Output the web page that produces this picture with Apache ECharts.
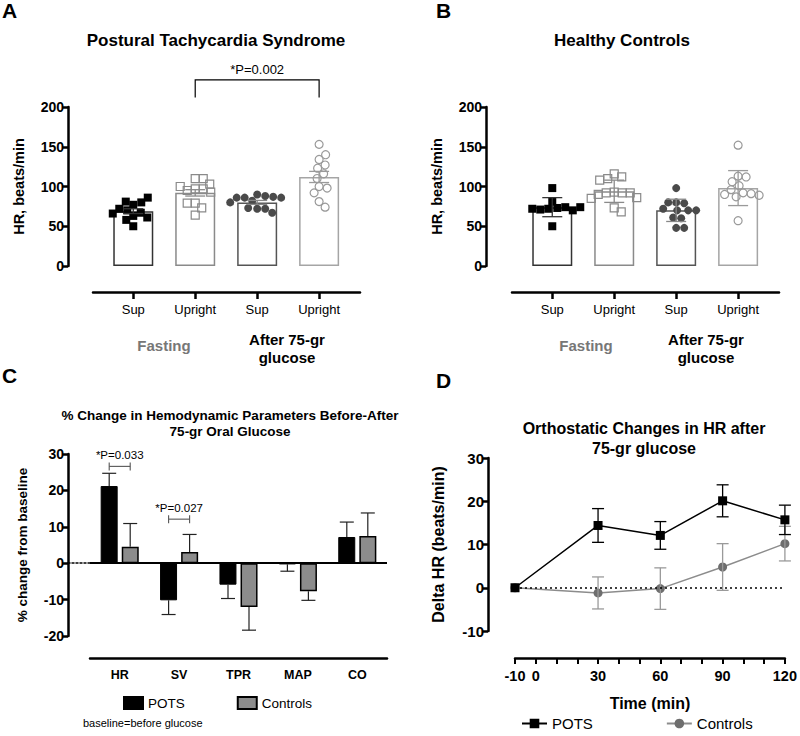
<!DOCTYPE html>
<html>
<head>
<meta charset="utf-8">
<script src="https://cdn.jsdelivr.net/npm/echarts@6.0.0/dist/echarts.min.js"></script>
<style>
html,body{margin:0;padding:0;background:#ffffff;}
#chart{width:800px;height:736px;}
</style>
</head>
<body>
<div id="chart"></div>
<script>
// ---------- data: panels A and B (HR, beats/min) ----------
const positionLabels = ['Sup', 'Upright', 'Sup', 'Upright'];
const potsSupFasting = [77, 80, 81, 86, 50, 63, 67, 70, 72, 58, 61, 66];
const potsUprightFasting = [110, 110, 97, 97, 95, 100, 103, 93, 79, 73, 79, 64];
const potsSupGlucose = [90, 88, 82, 86, 87, 86, 86, 72, 72, 73, 67, 80];
const potsUprightGlucose = [153, 134, 140, 127, 123, 116, 110, 100, 98, 92, 81, 74];
const potsMeans = [69, 92, 80, 112];
const potsSem = [3, 4, 2.5, 7];

const ctrlSupFasting = [98, 81, 73, 72, 71, 74, 72, 70, 74, 50];
const ctrlUprightFasting = [116, 112, 110, 108, 93, 92, 92, 92, 90, 86, 85, 73, 68];
const ctrlSupGlucose = [98, 80, 79, 80, 72, 70, 70, 70, 61, 60, 48, 48];
const ctrlUprightGlucose = [152, 113, 112, 106, 101, 96, 92, 91, 90, 89, 87, 57];
const ctrlMeans = [74, 94, 70, 98];
const ctrlSd = [12, 14, 14, 22];

const sigA = {from: 2, to: 4, low: 212, high: 234, label: '*P=0.002'};

// ---------- data: panel C (% change from baseline) ----------
const paramNames = ['HR', 'SV', 'TPR', 'MAP', 'CO'];
const potsChange = [21.2, -10.2, -5.9, -0.3, 7.2];
const potsChangeErr = [3.5, 3.9, 3.8, 1.9, 4.1];
const ctrlChange = [4.5, 3.1, -12.0, -7.7, 7.5];
const ctrlChangeErr = [6.4, 4.8, 6.4, 2.5, 6.3];
const sigC = [{cat: 0, y: 26.6, label: '*P=0.033'}, {cat: 1, y: 12.1, label: '*P=0.027'}];

// ---------- data: panel D (Delta HR, beats/min) ----------
const timePoints = [-10, 30, 60, 90, 120];
const potsDelta = [0, 14.4, 12.1, 20.1, 15.7];
const potsDeltaErr = [0, 3.9, 3.2, 3.7, 3.4];
const ctrlDelta = [0, -1.2, -0.2, 4.8, 10.2];
const ctrlDeltaErr = [0, 3.7, 4.8, 5.4, 4.0];
const timeTickLabels = [-10, 0, 30, 60, 90, 120];

// ---------- layout / style ----------
const FONT = '"Liberation Sans", Arial, Helvetica, sans-serif';
const AB = {top: 107, height: 159, width: 267, xmin: 0.35, xmax: 4.66, ymax: 200};
const pxPerX = AB.width / (AB.xmax - AB.xmin);
const pxPerY = AB.height / AB.ymax;
const groupStyles = [
  {symbol: 'rect', fill: '#000000', stroke: '#000000', bar: '#333333', err: '#333333'},
  {symbol: 'rect', fill: 'rgba(255,255,255,0)', stroke: '#8a8a8a', bar: '#8a8a8a', err: '#8a8a8a'},
  {symbol: 'circle', fill: '#4a4a4a', stroke: '#4a4a4a', bar: '#555555', err: '#888888'},
  {symbol: 'circle', fill: 'rgba(255,255,255,0)', stroke: '#9a9a9a', bar: '#a5a5a5', err: '#9a9a9a'}
];
const MS = 8; // marker size px

function swarm(vals, diam) {
  const placed = [];
  return vals.map(v => {
    const y = v * pxPerY;
    for (let k = 0; k < 400; k++) {
      const x = (k % 2 ? 1 : -1) * Math.ceil(k / 2) * 0.5;
      if (placed.every(p => (p[0] - x) * (p[0] - x) + (p[1] - y) * (p[1] - y) >= diam * diam)) {
        placed.push([x, y]);
        return x;
      }
    }
    return 0;
  });
}

function scatterSeries(vals, g, ax) {
  const st = groupStyles[g - 1];
  const offs = swarm(vals, MS);
  const hollow = st.fill.indexOf('rgba') === 0;
  return {
    type: 'scatter', xAxisIndex: ax, yAxisIndex: ax, symbol: st.symbol, symbolSize: MS, z: 3,
    silent: true,
    itemStyle: {color: st.fill, borderColor: st.stroke, borderWidth: hollow ? 1.2 : 0, opacity: 1},
    data: vals.map((v, j) => [g + offs[j] / pxPerX, v])
  };
}

function barSeries(means, ax) {
  return {
    type: 'bar', xAxisIndex: ax, yAxisIndex: ax, barWidth: 40, z: 1, silent: true,
    itemStyle: {color: '#ffffff', borderWidth: 1.5},
    data: means.map((m, i) => ({value: [i + 1, m], itemStyle: {borderColor: groupStyles[i].bar}}))
  };
}

function errSeriesAB(means, errs, ax) {
  return {
    type: 'custom', xAxisIndex: ax, yAxisIndex: ax, z: 4, silent: true, clip: false,
    data: means.map((m, i) => [i + 1, m, errs[i]]),
    renderItem: function (params, api) {
      const x = api.value(0), m = api.value(1), e = api.value(2);
      const t = api.coord([x, m + e]), b = api.coord([x, m - e]);
      const col = groupStyles[params.dataIndex].err;
      const cap = 10;
      const s = {stroke: col, lineWidth: 1.3};
      return {type: 'group', children: [
        {type: 'line', shape: {x1: t[0], y1: t[1], x2: b[0], y2: b[1]}, style: s},
        {type: 'line', shape: {x1: t[0] - cap, y1: t[1], x2: t[0] + cap, y2: t[1]}, style: s},
        {type: 'line', shape: {x1: b[0] - cap, y1: b[1], x2: b[0] + cap, y2: b[1]}, style: s}
      ]};
    }
  };
}

function bracketSeriesA(sig, ax) {
  return {
    type: 'custom', xAxisIndex: ax, yAxisIndex: ax, z: 5, silent: true, clip: false,
    data: [[sig.from, sig.to, sig.low, sig.high]],
    renderItem: function (params, api) {
      const a1 = api.coord([api.value(0), api.value(2)]);
      const a2 = api.coord([api.value(0), api.value(3)]);
      const b2 = api.coord([api.value(1), api.value(3)]);
      const b1 = api.coord([api.value(1), api.value(2)]);
      return {type: 'group', children: [
        {type: 'polyline', shape: {points: [a1, a2, b2, b1]}, style: {stroke: '#000', fill: null, lineWidth: 1.2}},
        {type: 'text', x: (a2[0] + b2[0]) / 2, y: a2[1] - 4,
          style: {text: sig.label, align: 'center', verticalAlign: 'bottom', fontFamily: FONT, fontSize: 13, fill: '#000'}}
      ]};
    }
  };
}

const C_SHIFT = 10.5;
function errSeriesC(vals, errs, shift) {
  return {
    type: 'custom', xAxisIndex: 2, yAxisIndex: 2, z: 4, silent: true, clip: false,
    data: vals.map((v, i) => [i, v, errs[i]]),
    renderItem: function (params, api) {
      const i = api.value(0), m = api.value(1), e = api.value(2);
      const end = m >= 0 ? m + e : m - e;
      const p0 = api.coord([i, m]), p1 = api.coord([i, end]);
      const x = p0[0] + shift, cap = 7;
      const s = {stroke: '#222', lineWidth: 1.2};
      return {type: 'group', children: [
        {type: 'line', shape: {x1: x, y1: p0[1], x2: x, y2: p1[1]}, style: s},
        {type: 'line', shape: {x1: x - cap, y1: p1[1], x2: x + cap, y2: p1[1]}, style: s}
      ]};
    }
  };
}

function bracketSeriesC() {
  return {
    type: 'custom', xAxisIndex: 2, yAxisIndex: 2, z: 5, silent: true, clip: false,
    data: sigC.map(s => [s.cat, s.y]),
    renderItem: function (params, api) {
      const p = api.coord([api.value(0), api.value(1)]);
      const l = p[0] - C_SHIFT, r = p[0] + C_SHIFT, y = p[1];
      const s = {stroke: '#555', lineWidth: 1.1};
      return {type: 'group', children: [
        {type: 'line', shape: {x1: l, y1: y, x2: r, y2: y}, style: s},
        {type: 'line', shape: {x1: l, y1: y - 4, x2: l, y2: y + 4}, style: s},
        {type: 'line', shape: {x1: r, y1: y - 4, x2: r, y2: y + 4}, style: s},
        {type: 'text', x: p[0], y: y - 5,
          style: {text: sigC[params.dataIndex].label, align: 'center', verticalAlign: 'bottom', fontFamily: FONT, fontSize: 11.5, fill: '#000'}}
      ]};
    }
  };
}

function errSeriesD(xs, vals, errs, color) {
  return {
    type: 'custom', xAxisIndex: 3, yAxisIndex: 3, z: 4, silent: true, clip: false,
    data: vals.map((v, i) => [xs[i], v, errs[i]]),
    renderItem: function (params, api) {
      const x = api.value(0), m = api.value(1), e = api.value(2);
      if (!e) return null;
      const t = api.coord([x, m + e]), b = api.coord([x, m - e]);
      const cap = 6;
      const s = {stroke: color, lineWidth: 1.3};
      return {type: 'group', children: [
        {type: 'line', shape: {x1: t[0], y1: t[1], x2: b[0], y2: b[1]}, style: s},
        {type: 'line', shape: {x1: t[0] - cap, y1: t[1], x2: t[0] + cap, y2: t[1]}, style: s},
        {type: 'line', shape: {x1: b[0] - cap, y1: b[1], x2: b[0] + cap, y2: b[1]}, style: s}
      ]};
    }
  };
}

const axisLineStyle = {color: '#000', width: 2.5};
const tickLabelBold = {color: '#000', fontFamily: FONT, fontWeight: 'bold'};

function abXAxis(grid) {
  return {
    type: 'value', gridIndex: grid, min: AB.xmin, max: AB.xmax, position: 'bottom', offset: 26,
    axisLine: {show: true, onZero: false, lineStyle: axisLineStyle},
    axisTick: {show: true, inside: false, length: 7, lineStyle: {color: '#000', width: 2.5}, customValues: [1, 2, 3, 4]},
    axisLabel: {show: true, customValues: [1, 2, 3, 4], margin: 11, color: '#000', fontFamily: FONT, fontSize: 13,
      formatter: v => positionLabels[Math.round(v) - 1] || ''},
    splitLine: {show: false}
  };
}
function abYAxis(grid, offset) {
  return {
    type: 'value', gridIndex: grid, min: 0, max: AB.ymax, interval: 50, offset: offset,
    name: 'HR, beats/min', nameLocation: 'middle', nameGap: 42, nameRotate: 90,
    nameTextStyle: {color: '#000', fontFamily: FONT, fontWeight: 'bold', fontSize: 14.5},
    axisLine: {show: true, onZero: false, lineStyle: axisLineStyle},
    axisTick: {show: true, length: 6, lineStyle: {color: '#000', width: 2.5}},
    axisLabel: Object.assign({fontSize: 14, margin: 4}, tickLabelBold),
    splitLine: {show: false}
  };
}

const chart = echarts.init(document.getElementById('chart'), null, {renderer: 'svg', width: 800, height: 736});

const option = {
  animation: false,
  backgroundColor: '#ffffff',
  textStyle: {fontFamily: FONT},
  grid: [
    {left: 93, top: AB.top, width: AB.width, height: AB.height},
    {left: 512, top: AB.top, width: AB.width, height: AB.height},
    {left: 90, top: 454, width: 297, height: 182},
    {left: 515, top: 458, width: 272, height: 173},
    {left: 68, top: 454, width: 22, height: 182}
  ],
  xAxis: [
    abXAxis(0),
    abXAxis(1),
    {
      type: 'category', gridIndex: 2, data: paramNames, position: 'bottom', offset: 22,
      axisLine: {show: true, onZero: false, lineStyle: axisLineStyle},
      axisTick: {show: false},
      axisLabel: Object.assign({fontSize: 12.5, margin: 10}, tickLabelBold),
      splitLine: {show: false}
    },
    {
      type: 'value', gridIndex: 3, min: -10, max: 120, interval: 10, position: 'bottom', offset: 27,
      name: 'Time (min)', nameLocation: 'middle', nameGap: 37,
      nameTextStyle: {color: '#000', fontFamily: FONT, fontWeight: 'bold', fontSize: 16},
      axisLine: {show: true, onZero: false, lineStyle: axisLineStyle},
      axisTick: {show: true, length: 6, lineStyle: {color: '#000', width: 2}},
      axisLabel: Object.assign({fontSize: 14.5, margin: 10, showMinLabel: true, showMaxLabel: true,
        formatter: v => (timeTickLabels.indexOf(v) >= 0 ? String(v) : '')}, tickLabelBold),
      splitLine: {show: false}
    },
    {
      type: 'value', gridIndex: 4, min: 0, max: 1,
      axisLine: {show: true, onZero: true, lineStyle: {color: '#000', width: 1.5, type: [2, 2]}},
      axisTick: {show: false}, axisLabel: {show: false}, splitLine: {show: false}
    }
  ],
  yAxis: [
    abYAxis(0, 25),
    abYAxis(1, 26),
    {
      type: 'value', gridIndex: 2, min: -20, max: 30, interval: 10, offset: 22,
      name: '% change from baseline', nameLocation: 'middle', nameGap: 39, nameRotate: 90,
      nameTextStyle: {color: '#000', fontFamily: FONT, fontWeight: 'bold', fontSize: 13.5},
      axisLine: {show: true, onZero: false, lineStyle: axisLineStyle},
      axisTick: {show: true, length: 6, lineStyle: {color: '#000', width: 2.5}},
      axisLabel: Object.assign({fontSize: 14, margin: 4}, tickLabelBold),
      splitLine: {show: false}
    },
    {
      type: 'value', gridIndex: 3, min: -10, max: 30, interval: 10, offset: 27,
      name: 'Delta HR (beats/min)', nameLocation: 'middle', nameGap: 42, nameRotate: 90,
      nameTextStyle: {color: '#000', fontFamily: FONT, fontWeight: 'bold', fontSize: 16},
      axisLine: {show: true, onZero: false, lineStyle: axisLineStyle},
      axisTick: {show: true, length: 6, lineStyle: {color: '#000', width: 2.5}},
      axisLabel: Object.assign({fontSize: 15, margin: 4}, tickLabelBold),
      splitLine: {show: false}
    },
    {type: 'value', gridIndex: 4, min: -20, max: 30, show: false}
  ],
  legend: [
    {
      data: ['POTS', 'Controls'], left: 123, top: 696, padding: 0, icon: 'rect', itemWidth: 19, itemHeight: 12, itemGap: 52,
      selectedMode: false, textStyle: {color: '#000', fontFamily: FONT, fontSize: 13.5}
    },
    {
      data: ['D-POTS', 'D-Controls'], left: 521, top: 716, padding: 0, itemWidth: 25, itemHeight: 12, itemGap: 73,
      selectedMode: false, formatter: n => n.slice(2), textStyle: {color: '#000', fontFamily: FONT, fontSize: 15}
    }
  ],
  graphic: [
    {type: 'text', left: 2, top: 0, style: {text: 'A', fontFamily: FONT, fontWeight: 'bold', fontSize: 21, fill: '#000'}},
    {type: 'text', left: 436, top: 0, style: {text: 'B', fontFamily: FONT, fontWeight: 'bold', fontSize: 21, fill: '#000'}},
    {type: 'text', left: 2, top: 365, style: {text: 'C', fontFamily: FONT, fontWeight: 'bold', fontSize: 21, fill: '#000'}},
    {type: 'text', left: 436, top: 370, style: {text: 'D', fontFamily: FONT, fontWeight: 'bold', fontSize: 21, fill: '#000'}},
    {type: 'text', x: 216, y: 40, style: {text: 'Postural Tachycardia Syndrome', align: 'center', verticalAlign: 'middle', fontFamily: FONT, fontWeight: 'bold', fontSize: 17, fill: '#000'}},
    {type: 'text', x: 622, y: 40, style: {text: 'Healthy Controls', align: 'center', verticalAlign: 'middle', fontFamily: FONT, fontWeight: 'bold', fontSize: 17, fill: '#000'}},
    {type: 'text', x: 164, y: 345, style: {text: 'Fasting', align: 'center', verticalAlign: 'middle', fontFamily: FONT, fontWeight: 'bold', fontSize: 15, fill: '#777'}},
    {type: 'text', x: 287, y: 348.5, style: {text: 'After 75-gr\nglucose', align: 'center', verticalAlign: 'middle', lineHeight: 18, fontFamily: FONT, fontWeight: 'bold', fontSize: 15, fill: '#000'}},
    {type: 'text', x: 586, y: 345, style: {text: 'Fasting', align: 'center', verticalAlign: 'middle', fontFamily: FONT, fontWeight: 'bold', fontSize: 15, fill: '#777'}},
    {type: 'text', x: 706, y: 348.5, style: {text: 'After 75-gr\nglucose', align: 'center', verticalAlign: 'middle', lineHeight: 18, fontFamily: FONT, fontWeight: 'bold', fontSize: 15, fill: '#000'}},
    {type: 'text', x: 230, y: 423.5, style: {text: '% Change in Hemodynamic Parameters Before-After\n75-gr Oral Glucose', align: 'center', verticalAlign: 'middle', lineHeight: 16, fontFamily: FONT, fontWeight: 'bold', fontSize: 13.5, fill: '#000'}},
    {type: 'text', x: 644, y: 438, style: {text: 'Orthostatic Changes in HR after\n75-gr glucose', align: 'center', verticalAlign: 'middle', lineHeight: 20, fontFamily: FONT, fontWeight: 'bold', fontSize: 16, fill: '#000'}},
    {type: 'text', left: 83, top: 717, style: {text: 'baseline=before glucose', fontFamily: FONT, fontSize: 11, fill: '#000'}}
  ],
  series: [
    // Panel A
    barSeries(potsMeans, 0),
    scatterSeries(potsSupFasting, 1, 0),
    scatterSeries(potsUprightFasting, 2, 0),
    scatterSeries(potsSupGlucose, 3, 0),
    scatterSeries(potsUprightGlucose, 4, 0),
    errSeriesAB(potsMeans, potsSem, 0),
    bracketSeriesA(sigA, 0),
    // Panel B
    barSeries(ctrlMeans, 1),
    scatterSeries(ctrlSupFasting, 1, 1),
    scatterSeries(ctrlUprightFasting, 2, 1),
    scatterSeries(ctrlSupGlucose, 3, 1),
    scatterSeries(ctrlUprightGlucose, 4, 1),
    errSeriesAB(ctrlMeans, ctrlSd, 1),
    // Panel C
    {
      name: 'POTS', type: 'bar', xAxisIndex: 2, yAxisIndex: 2, barWidth: 17, barGap: '24%', z: 2, silent: true,
      itemStyle: {color: '#000000', borderColor: '#000000', borderWidth: 1},
      data: potsChange,
      markLine: {silent: true, symbol: 'none', label: {show: false},
        lineStyle: {color: '#000', width: 2, type: 'solid'}, data: [{yAxis: 0}]}
    },
    {
      name: 'Controls', type: 'bar', xAxisIndex: 2, yAxisIndex: 2, barWidth: 17, barGap: '24%', z: 2, silent: true,
      itemStyle: {color: '#8c8c8c', borderColor: '#000000', borderWidth: 1.5},
      data: ctrlChange
    },
    errSeriesC(potsChange, potsChangeErr, -C_SHIFT),
    errSeriesC(ctrlChange, ctrlChangeErr, C_SHIFT),
    bracketSeriesC(),
    // Panel D
    {
      name: 'D-Controls', type: 'line', xAxisIndex: 3, yAxisIndex: 3, z: 3, silent: true,
      symbol: 'circle', symbolSize: 9,
      itemStyle: {color: '#6e6e6e'}, lineStyle: {color: '#8c8c8c', width: 1.5},
      data: timePoints.map((t, i) => [t, ctrlDelta[i]])
    },
    {
      name: 'D-POTS', type: 'line', xAxisIndex: 3, yAxisIndex: 3, z: 5, silent: true,
      symbol: 'rect', symbolSize: 9,
      itemStyle: {color: '#000000'}, lineStyle: {color: '#000000', width: 1.5},
      data: timePoints.map((t, i) => [t, potsDelta[i]]),
      markLine: {silent: true, symbol: 'none', label: {show: false},
        lineStyle: {color: '#000', width: 1.5, type: [2, 3]}, data: [{yAxis: 0}]}
    },
    errSeriesD(timePoints, ctrlDelta, ctrlDeltaErr, '#9a9a9a'),
    errSeriesD(timePoints, potsDelta, potsDeltaErr, '#000000')
  ]
};
chart.setOption(option);
</script>
</body>
</html>
